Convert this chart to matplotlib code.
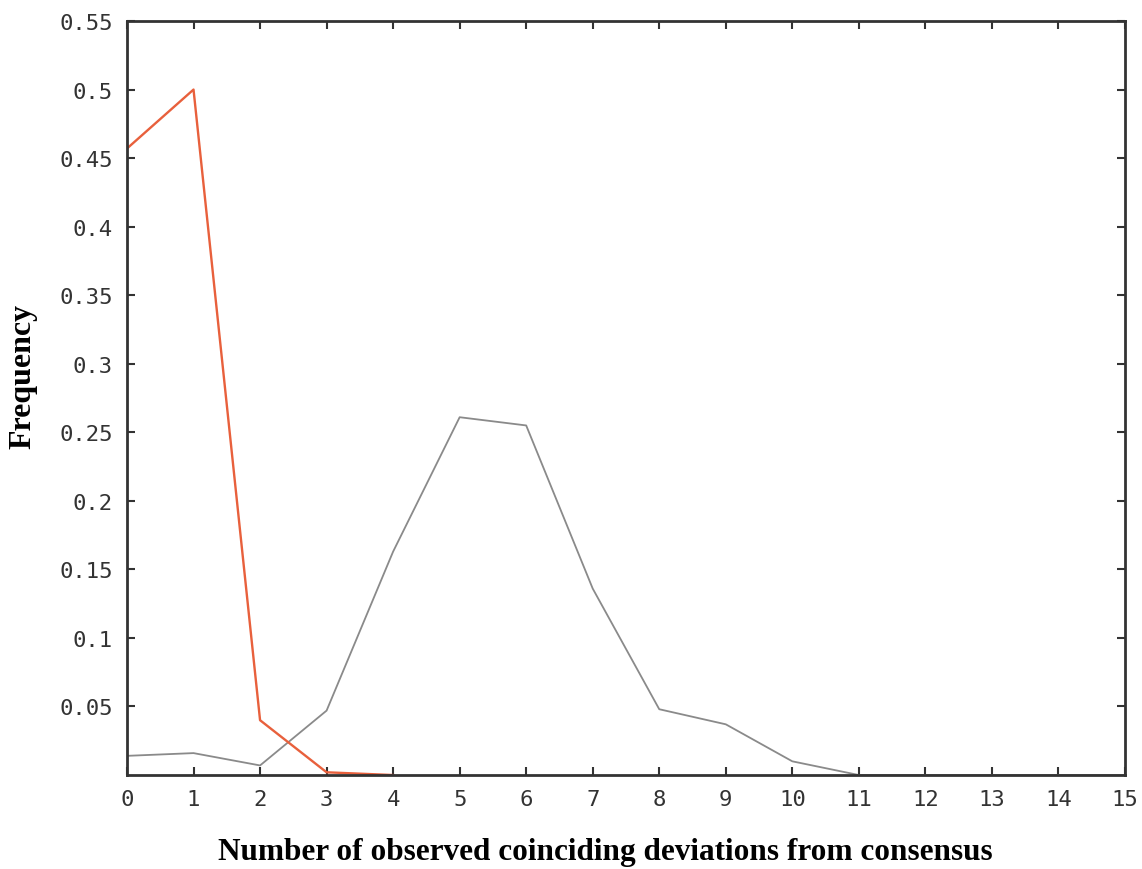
import matplotlib.pyplot as plt

# Frequency of observed coinciding deviations from consensus
x_gray = [0, 1, 2, 3, 4, 5, 6, 7, 8, 9, 10, 11, 12, 13, 14, 15]
y_gray = [0.014, 0.016, 0.007, 0.047, 0.163, 0.261, 0.255, 0.136,
          0.048, 0.037, 0.010, 0.0, 0.0, 0.0, 0.0, 0.0]

x_red = [0, 1, 2, 3, 4]
y_red = [0.457, 0.500, 0.040, 0.002, 0.0]

y_ticks = [0.05, 0.1, 0.15, 0.2, 0.25, 0.3, 0.35, 0.4, 0.45, 0.5, 0.55]
y_tick_labels = ["0.05", "0.1", "0.15", "0.2", "0.25", "0.3", "0.35",
                 "0.4", "0.45", "0.5", "0.55"]

fig = plt.figure(figsize=(11.42, 8.70), dpi=100)
ax = fig.add_axes([0.1112, 0.108, 0.8739, 0.8667])

ax.plot(x_gray, y_gray, color="#8a8a8a", linewidth=1.3)
ax.plot(x_red, y_red, color="#e8603c", linewidth=1.7)

ax.set_xlim(0, 15)
ax.set_ylim(0, 0.55)
ax.set_xticks(range(16))
ax.set_yticks(y_ticks)
ax.set_yticklabels(y_tick_labels)

for lbl in ax.get_xticklabels() + ax.get_yticklabels():
    lbl.set_family("DejaVu Sans Mono")
    lbl.set_fontsize(16)
    lbl.set_color("#333333")

ax.tick_params(direction="in", length=6, width=1.5, color="#333333",
               top=True, right=True, pad=10)
for s in ax.spines.values():
    s.set_linewidth(2)
    s.set_color("#333333")

ax.set_xlabel("Number of observed coinciding deviations from consensus",
              family="Liberation Serif", fontweight="bold", fontsize=22.5)
ax.set_ylabel("Frequency", family="Liberation Serif", fontweight="bold",
              fontsize=23)
ax.xaxis.set_label_coords(0.479, -0.082)
ax.yaxis.set_label_coords(-0.09, 0.53)

fig.savefig("out.png", dpi=100)
